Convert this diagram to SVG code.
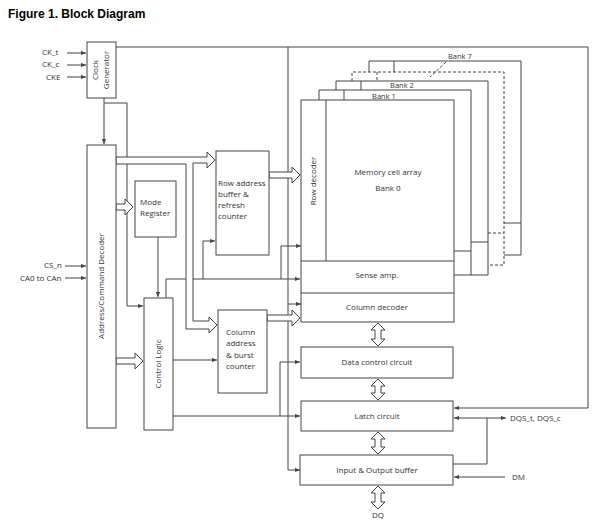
<svg xmlns="http://www.w3.org/2000/svg" width="600" height="530" viewBox="0 0 600 530">
<defs>
<style>
.b{fill:#fff;stroke:#444;stroke-width:1}
.l{fill:none;stroke:#444;stroke-width:1}
.d{fill:none;stroke:#444;stroke-width:1;stroke-dasharray:3 2}
.h{fill:#fff;stroke:#444;stroke-width:1}
text{font-family:"Open Sans","Liberation Sans",sans-serif;font-size:8px;fill:#333}
.m{text-anchor:middle}
.s{font-size:7.5px}
</style>
<marker id="a" viewBox="0 0 6 6" refX="6" refY="3" markerWidth="5" markerHeight="5" orient="auto-start-reverse"><path d="M0,0.5 L6,3 L0,5.5 Z" fill="#444"/></marker>
</defs>
<rect width="600" height="530" fill="#fff"/>
<text x="8" y="18" style="font-family:'Liberation Sans',Arial,sans-serif;font-size:12px;font-weight:bold;fill:#000">Figure 1. Block Diagram</text>

<g id="connectors">
<line class="l" x1="67" y1="53" x2="86" y2="53" marker-end="url(#a)"/>
<line class="l" x1="67" y1="65" x2="86" y2="65" marker-end="url(#a)"/>
<line class="l" x1="67" y1="77" x2="86" y2="77" marker-end="url(#a)"/>
<line class="l" x1="65" y1="266" x2="86" y2="266" marker-end="url(#a)"/>
<line class="l" x1="65" y1="278" x2="86" y2="278" marker-end="url(#a)"/>
<polyline class="l" points="116,47 588,47 588,408 454,408" marker-end="url(#a)"/>
<polyline class="l" points="288,47 288,470 300,470" marker-end="url(#a)"/>
<line class="l" x1="288" y1="304" x2="301" y2="304" marker-end="url(#a)"/>
<line class="l" x1="104" y1="98" x2="104" y2="144" marker-end="url(#a)"/>
<polyline class="l" points="104,103 127,103 127,306 143,306" marker-end="url(#a)"/>
<line class="l" x1="158" y1="237" x2="158" y2="297" marker-end="url(#a)"/>
<polyline class="l" points="166,298 166,279 300,279" marker-end="url(#a)"/>
<polyline class="l" points="203,279 203,241 215,241" marker-end="url(#a)"/>
<polyline class="l" points="281,279 281,246 301,246" marker-end="url(#a)"/>
<line class="l" x1="173" y1="360" x2="217" y2="360" marker-end="url(#a)"/>
<polyline class="l" points="173,416 300,416" marker-end="url(#a)"/>
<polyline class="l" points="280,416 280,362 300,362" marker-end="url(#a)"/>
<line class="l" x1="454" y1="418" x2="506" y2="418" marker-start="url(#a)" marker-end="url(#a)"/>
<polyline class="l" points="453,464 487,464 487,418"/>
<line class="l" x1="505" y1="477" x2="454" y2="477" marker-end="url(#a)"/>
<path class="h" d="M116,157 L207,157 L207,152 L215,160 L207,168 L207,163 L193,163 L193,321 L209,321 L209,317 L217,325 L209,333 L209,329 L186,329 L186,164 L116,164 Z"/>
<path class="h" d="M116,204 L125,204 L125,199 L133,207 L125,215 L125,210 L116,210 Z"/>
<path class="h" d="M116,358 L135,358 L135,353 L143,361 L135,369 L135,364 L116,364 Z"/>
<path class="h" d="M269,172 L292,172 L292,167 L300,175 L292,183 L292,178 L269,178 Z"/>
<path class="h" d="M267,315 L292,315 L292,310 L300,318 L292,326 L292,321 L267,321 Z"/>
<path class="h" d="M375,330 L371,330 L378,323 L385,330 L381,330 L381,339 L385,339 L378,346 L371,339 L375,339 Z"/>
<path class="h" d="M375,386 L371,386 L378,379 L385,386 L381,386 L381,393 L385,393 L378,400 L371,393 L375,393 Z"/>
<path class="h" d="M375,439 L371,439 L378,432 L385,439 L381,439 L381,447 L385,447 L378,454 L371,447 L375,447 Z"/>
<path class="h" d="M375,493 L371,493 L378,486 L385,493 L381,493 L381,502 L385,502 L378,509 L371,502 L375,502 Z"/>
</g>

<g id="clock-generator"><rect class="b" x="87" y="42" width="29" height="56"/>
<text class="m" transform="translate(98,70) rotate(-90)">Clock</text><text class="m" transform="translate(109,70) rotate(-90)">Generator</text></g>
<g id="decoder"><rect class="b" x="87" y="145" width="29" height="283"/>
<text class="m" transform="translate(104,286) rotate(-90)">Address/Command Decoder</text></g>
<g id="mode-register"><rect class="b" x="135" y="181" width="41" height="56"/>
<text x="140" y="205">Mode</text><text x="140" y="216">Register</text></g>
<g id="control-logic"><rect class="b" x="144" y="298" width="29" height="132"/>
<text class="m" transform="translate(161,364) rotate(-90)">Control Logic</text></g>
<g id="row-address"><rect class="b" x="216" y="151" width="53" height="104"/>
<text x="218" y="186">Row address</text><text x="218" y="197">buffer &amp;</text><text x="218" y="208">refresh</text><text x="218" y="219">counter</text></g>
<g id="column-address"><rect class="b" x="218" y="310" width="49" height="83"/>
<text x="226" y="335">Column</text><text x="226" y="346">address</text><text x="226" y="358">&amp; burst</text><text x="226" y="369">counter</text></g>

<g id="bank7"><polyline class="l" points="369,72 369,61 521,61 521,255 504,255"/><line class="l" x1="394" y1="61" x2="394" y2="72"/><line class="l" x1="504" y1="223" x2="521" y2="223"/>
<text class="s" x="448" y="59">Bank 7</text><line class="d" x1="446" y1="62" x2="430" y2="77"/></g>
<g id="bank-dashed"><polyline class="d" points="352,81 352,72 504,72 504,265 488,265"/><line class="d" x1="377" y1="72" x2="377" y2="81"/><line class="d" x1="488" y1="233" x2="504" y2="233"/></g>
<g id="bank2"><polyline class="l" points="336,90 336,81 488,81 488,275 471,275"/><line class="l" x1="361" y1="81" x2="361" y2="90"/><line class="l" x1="471" y1="242" x2="488" y2="242"/>
<text x="402" y="88" class="m s">Bank 2</text></g>
<g id="bank1"><polyline class="l" points="319,100 319,90 471,90 471,275 454,275"/><line class="l" x1="344" y1="90" x2="344" y2="100"/><line class="l" x1="454" y1="251" x2="471" y2="251"/>
<text x="384" y="98.5" class="m s">Bank 1</text></g>
<g id="bank0"><rect class="b" x="301" y="100" width="153" height="222"/>
<line class="l" x1="326" y1="100" x2="326" y2="261"/>
<line class="l" x1="301" y1="261" x2="454" y2="261"/><line class="l" x1="301" y1="293" x2="454" y2="293"/>
<text class="m" transform="translate(316,181) rotate(-90)">Row decoder</text>
<text class="m" x="388" y="175">Memory cell array</text><text class="m" x="388" y="191">Bank 0</text>
<text class="m" x="377" y="278">Sense amp.</text><text class="m" x="377" y="310">Column decoder</text></g>
<g id="data-control"><rect class="b" x="301" y="347" width="152" height="31"/><text class="m" x="377" y="365">Data control circuit</text></g>
<g id="latch"><rect class="b" x="301" y="401" width="152" height="30"/><text class="m" x="377" y="419">Latch circuit</text></g>
<g id="io-buffer"><rect class="b" x="300" y="455" width="153" height="30"/><text class="m" x="377" y="473">Input &amp; Output buffer</text></g>

<g id="labels">
<text x="42" y="55">CK_t</text><text x="42" y="67">CK_c</text><text x="46" y="80">CKE</text>
<text x="44" y="268">CS_n</text><text x="20" y="281">CA0 to CAn</text>
<text x="510" y="421">DQS_t, DQS_c</text><text x="512" y="480">DM</text><text class="m" x="378" y="518">DQ</text>
</g>
</svg>
